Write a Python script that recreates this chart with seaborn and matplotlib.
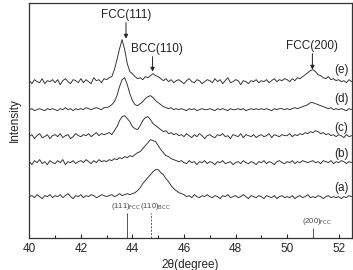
import numpy as np
import pandas as pd
import matplotlib
matplotlib.use("Agg")
import matplotlib.pyplot as plt
import seaborn as sns

# 2theta grid, 0.1 degree step
two_theta = np.round(np.arange(40.0, 52.55, 0.1), 1)

# intensities above each trace's own baseline
trace_a = [0, 1, -1, 2, 0, -2, 1, 0, 2, -1,
           1, 0, 2, -1, 1, 3, 0, -2, 1, 0,
           2, -1, 1, 0, 2, 1, -1, 0, 2, 1,
           0, 1, 2, 0, 1, 3, 1, 2, 3, 2,
           3, 4, 6, 9, 13, 16, 19, 22, 25, 27,
           27, 24, 22, 18, 15, 11, 8, 6, 4, 3,
           2, 0, 1, -1, 2, 0, -1, 1, 0, 2,
           0, -1, 1, 0, -2, 1, 0, 2, -1, 0,
           1, -1, 0, 2, 0, -2, 1, 0, -1, 1,
           0, -2, 1, 0, -1, 1, -2, 0, 1, -1,
           0, -1, 1, -2, 0, 1, -1, 0, 2, -1,
           0, -1, 1, 0, -2, 0, 1, -1, 0, -1,
           0, -2, 0, -1, 1, 0]
trace_b = [1, -2, 2, 0, 3, -1, 1, -2, 2, 0,
           -1, 2, 0, 3, -2, 1, 0, 2, -1, 1,
           2, 0, 3, 1, -1, 2, 0, 3, 1, 2,
           1, 3, 2, 4, 3, 5, 4, 6, 5, 7,
           6, 8, 10, 11, 14, 17, 20, 23, 22, 21,
           17, 13, 10, 7, 6, 4, 3, 2, 1, 2,
           0, -1, 2, 0, 1, -2, 1, 0, 2, -1,
           1, 0, -2, 1, 0, 2, -1, 0, 1, -2,
           0, 1, -1, 2, 0, -1, 1, 0, -2, 1,
           0, 2, -1, 1, 0, -2, 1, 2, 0, -1,
           1, 0, 2, -1, 1, 0, 2, 1, 0, 1,
           2, 0, 1, -1, 2, 1, 0, 2, -1, 1,
           0, 2, 1, -1, 1, 0]
trace_c = [0, 2, -2, 1, 3, -1, 0, 2, -2, 1,
           2, 0, 3, -1, 1, 2, -2, 0, 3, 1,
           0, 2, 1, 3, 0, 2, 4, 1, 3, 2,
           3, 4, 2, 6, 10, 16, 20, 21, 18, 15,
           10, 8, 7, 11, 16, 19, 20, 17, 13, 11,
           9, 7, 5, 6, 3, 4, 2, 3, 1, 2,
           0, 3, 1, -1, 2, 0, 3, 1, -2, 1,
           2, 0, -1, 2, 1, 3, 0, 1, -2, 2,
           1, 0, 3, -1, 2, 1, 0, 2, -1, 1,
           2, 0, 1, 3, -1, 2, 1, 0, 2, 1,
           1, 3, 0, 2, 1, 3, 2, 4, 3, 5,
           4, 6, 5, 3, 4, 2, 3, 1, 2, 0,
           2, 1, -1, 2, 0, 1]
trace_d = [0, 1, -1, 0, 1, 0, -1, 1, 0, 1,
           0, -1, 1, 0, 2, 0, 1, -1, 1, 0,
           1, 0, 2, 1, 0, 1, 2, 1, 0, 2,
           2, 3, 5, 8, 14, 23, 30, 32, 25, 16,
           9, 5, 4, 6, 8, 11, 13, 14, 12, 9,
           7, 5, 3, 2, 1, 2, 0, 1, 0, 1,
           0, -1, 1, 0, 1, -1, 0, 1, 0, 0,
           1, 0, -1, 1, 0, 1, 0, -1, 1, 0,
           0, 1, 0, 1, -1, 0, 1, 0, 1, 0,
           1, 0, 1, 0, -1, 1, 0, 1, 1, 0,
           1, 0, 1, 2, 1, 2, 3, 4, 5, 7,
           7, 6, 5, 4, 3, 2, 1, 2, 0, 1,
           0, 1, 0, -1, 1, 0]
trace_e = [1, -2, 2, 0, -1, 3, -2, 1, 0, 2,
           -1, 2, -3, 1, 3, 0, -2, 2, 1, -1,
           3, -1, 2, 0, -2, 4, 1, 2, -1, 3,
           2, 4, 5, 12, 22, 33, 42, 32, 18, 10,
           8, 5, 3, 4, 2, 5, 4, 6, 8, 6,
           5, 3, 1, 3, 0, 2, -1, 1, 2, 0,
           -2, 1, 3, 0, -1, 2, 1, -2, 0, 2,
           1, -1, 3, 0, 2, -2, 1, 4, -1, 0,
           2, 1, -3, 1, 0, -2, 1, 0, 2, -1,
           1, 0, 2, -1, 1, 3, 0, 2, 1, 3,
           2, 0, 3, 1, 4, 3, 5, 7, 9, 11,
           12, 10, 7, 6, 4, 3, 5, 2, 3, 1,
           2, 0, 1, -1, 2, 0]

sample_names = ["(a)", "(b)", "(c)", "(d)", "(e)"]
offsets = [41, 75, 101, 128, 156]
traces = [trace_a, trace_b, trace_c, trace_d, trace_e]

rows = []
for name, off, tr in zip(sample_names, offsets, traces):
    for t, v in zip(two_theta, tr):
        rows.append({"two_theta": t, "intensity": v + off, "sample": name})
df = pd.DataFrame(rows)

sns.set_style("ticks")
plt.rcParams["font.family"] = ["Liberation Sans", "DejaVu Sans"]

fig = plt.figure(figsize=(3.53, 2.70), dpi=100)
ax = fig.add_axes([0.083, 0.12, 0.913, 0.87])

sns.lineplot(data=df, x="two_theta", y="intensity", units="sample",
             estimator=None, color="#2a2a2a", lw=0.65, ax=ax, legend=False)

# label each trace on the right
label_y = [50, 84, 110, 139, 168]
for name, ly in zip(sample_names, label_y):
    ax.text(52.1, ly, name, fontsize=8.5, ha="center", va="center", color="#222222")

# peak annotations
peaks = [("FCC(111)", 43.75, 223, 199), ("BCC(110)", 44.78, 189, 166), ("FCC(200)", 50.98, 192, 168)]
for txt, px, ty, tip in peaks:
    ax.annotate("", xy=(px, tip), xytext=(px, ty - 8),
                arrowprops=dict(arrowstyle="-|>", color="#222222", lw=0.7,
                                mutation_scale=6, shrinkA=0, shrinkB=0))
    ax.text(px + (0.17 if txt == "BCC(110)" else 0), ty, txt, fontsize=8.5,
            ha="center", va="center", color="#222222")

# reference stick lines
ax.vlines(43.8, 0, 25, color="#555555", lw=0.7)
ax.vlines(44.71, 0, 25, color="#555555", lw=0.7, linestyles=(0, (2, 1.5)))
ax.vlines(51.0, 0, 10, color="#555555", lw=0.7)
ax.text(43.77, 25.5, "(111)$_{\\rm FCC}$", fontsize=5.5, ha="center", va="bottom", color="#444444")
ax.text(44.88, 25.5, "(110)$_{\\rm BCC}$", fontsize=5.5, ha="center", va="bottom", color="#444444")
ax.text(51.15, 11, "(200)$_{\\rm FCC}$", fontsize=5.5, ha="center", va="bottom", color="#444444")

ax.set_xlim(40, 52.5)
ax.set_ylim(0, 235)
ax.set_xticks([40, 42, 44, 46, 48, 50, 52])
ax.set_xticks([41, 43, 45, 47, 49, 51], minor=True)
ax.set_yticks([])
ax.tick_params(axis="x", direction="in", length=3, width=0.8, labelsize=8.5, pad=4)
ax.tick_params(axis="x", which="minor", direction="in", length=2, width=0.8)
for s in ax.spines.values():
    s.set_linewidth(0.9)
    s.set_color("#333333")
ax.set_xlabel("2θ(degree)", fontsize=8.5, labelpad=3)
ax.set_ylabel("Intensity", fontsize=8.5, labelpad=6)

fig.savefig("out.png", dpi=100)
